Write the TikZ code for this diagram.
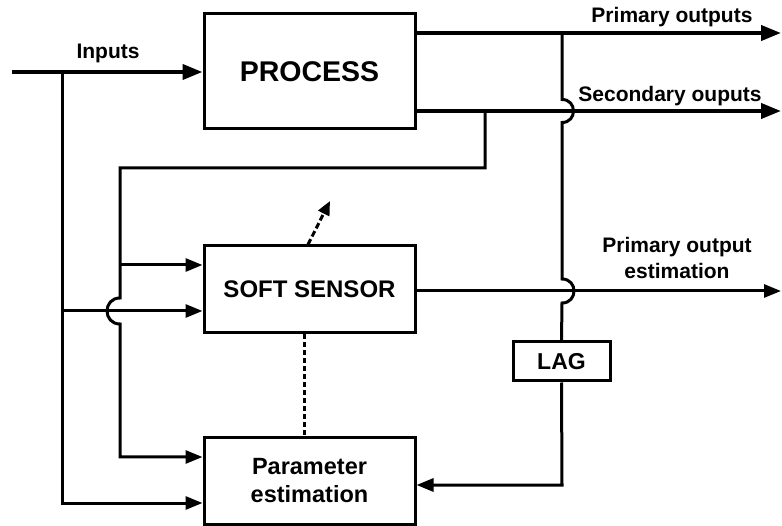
\documentclass[tikz,border=0pt]{standalone}
\usepackage{fontspec}
\setmainfont{Liberation Sans}
\usetikzlibrary{arrows.meta,calc}
\begin{document}
\begin{tikzpicture}[x=1pt,y=-1pt,
  blk/.style={draw, line width=3pt, rectangle, inner sep=0pt, align=center},
  conn/.style={line width=3pt},
  thickconn/.style={line width=4pt},
  tip/.style={-{Triangle[length=17pt,width=13pt]}},
  bigtip/.style={-{Triangle[length=20pt,width=15pt]}},
  smalltip/.style={-{Triangle[length=14pt,width=12pt]}},
  lbl/.style={font=\bfseries\fontsize{21}{26}\selectfont, inner sep=0pt, align=center}
]
\useasboundingbox (0,0) rectangle (782,526);

% blocks
\node[blk, minimum width=211pt, minimum height=115pt, font=\bfseries\fontsize{28.5}{30}\selectfont] (proc) at (309.5,71.5) {PROCESS};
\node[blk, minimum width=211pt, minimum height=87pt, font=\bfseries\fontsize{24}{28}\selectfont] (soft) at (309.5,289.5) {SOFT SENSOR};
\node[blk, minimum width=211pt, minimum height=86pt, font=\bfseries\fontsize{23.5}{28}\selectfont] (param) at (309.5,481) {Parameter\\estimation};
\node[blk, minimum width=97pt, minimum height=39pt, font=\bfseries\fontsize{23}{26}\selectfont] (lag) at (561.5,361.5) {LAG};

% labels
\node[lbl] (inlbl) at (108,53) {Inputs};
\node[lbl] (polbl) at (672,17) {Primary outputs};
\node[lbl] (solbl) at (670,96) {Secondary ouputs};
\node[lbl] (eolbl) at (677,258) {Primary output\\estimation};

% coordinates
\coordinate (in) at (12,72);
\coordinate (b1) at (62,72);
\coordinate (po) at (781,33);
\coordinate (so) at (781,111);
\coordinate (eo) at (781,291);
\coordinate (fb) at (485,111);
\coordinate (fbc) at (485,168);
\coordinate (fbl) at (120,168);
\coordinate (j1a) at (120,298);
\coordinate (j1b) at (120,324);
\coordinate (pin1) at (120,457);
\coordinate (s1) at (120,265);
\coordinate (s2) at (62,311);
\coordinate (pin2) at (62,503);
\coordinate (lt) at (562,33);
\coordinate (j2a) at (562,99.5);
\coordinate (j2b) at (562,122.5);
\coordinate (j3a) at (562,279);
\coordinate (j3b) at (562,303);
\coordinate (lb) at (562,485);
\coordinate (dtip) at (330,201);

% inputs
\draw[thickconn, bigtip] (in) -- (in -| proc.west);
\draw[conn, tip] (b1) -- (pin2) -- (pin2 -| param.west);
\draw[conn, tip] (s2) -- (s2 -| soft.west);

% outputs
\draw[thickconn, bigtip] (po -| proc.east) -- (po);
\draw[thickconn, bigtip] (so -| proc.east) -- (so);
\draw[conn, tip] (eo -| soft.east) -- (eo);

% feedback from secondary outputs
\draw[conn, tip] (fb) -- (fbc) -- (fbl) -- (j1a) .. controls +(-17.3,0) and +(-17.3,0) .. (j1b) -- (pin1) -- (pin1 -| param.west);
\draw[conn, tip] (s1) -- (s1 -| soft.west);

% LAG path
\draw[conn] (lt) -- (j2a) .. controls +(15.3,0) and +(15.3,0) .. (j2b) -- (j3a) .. controls +(16,0) and +(16,0) .. (j3b) -- (lag.north);
\draw[conn, tip] (lag.south) -- (lb) -- (lb -| param.east);

% dashed arrow and dotted link
\draw[conn, dash pattern=on 6pt off 3pt, smalltip] ($(soft.north)+(-1.5,0)$) -- (dtip);
\draw[conn, dash pattern=on 5pt off 3pt] ($(soft.south)+(-5.5,0)$) -- ($(param.north)+(-5.5,0)$);
\end{tikzpicture}
\end{document}
